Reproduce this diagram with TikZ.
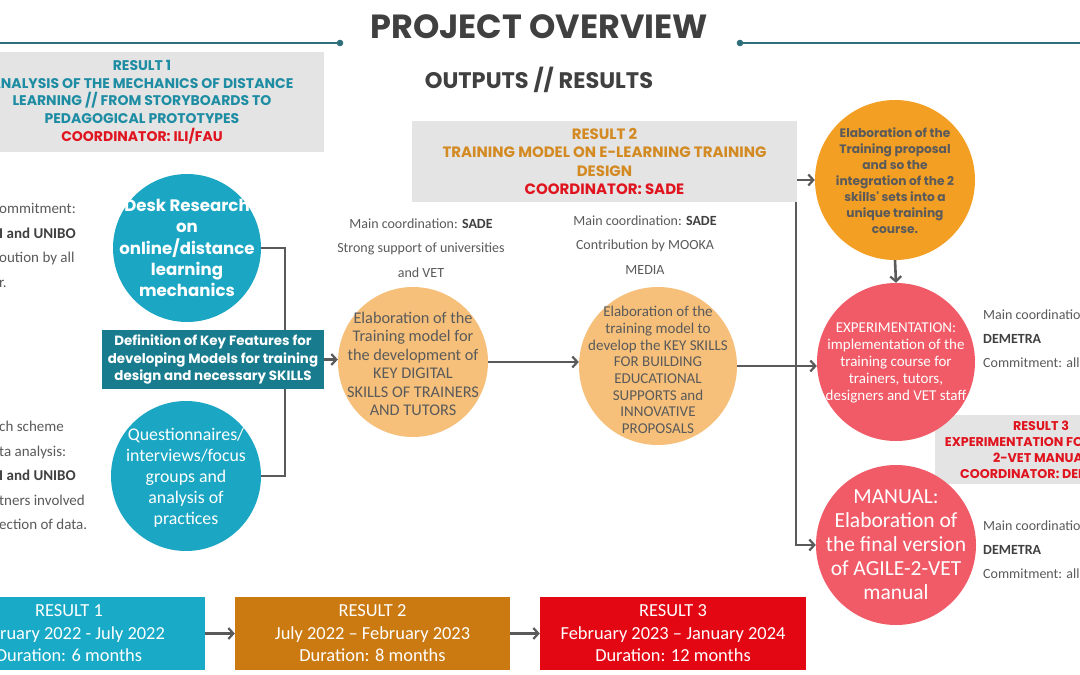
\documentclass[tikz,border=0pt]{standalone}
\usepackage{fontspec}
\setmainfont{Carlito}
\newfontfamily\goth{Poppins}
\usetikzlibrary{arrows.meta,calc}
\definecolor{tealC}{HTML}{1BA6C3}
\definecolor{tealD}{HTML}{187C8E}
\definecolor{orL}{HTML}{F6C07B}
\definecolor{orM}{HTML}{F39F24}
\definecolor{coral}{HTML}{F15B68}
\definecolor{grayBox}{HTML}{E4E4E4}
\definecolor{txtD}{HTML}{404040}
\definecolor{txtM}{HTML}{5A5A5A}
\definecolor{hOne}{HTML}{1E8DA3}
\definecolor{hTwo}{HTML}{D38A22}
\definecolor{redC}{HTML}{E0141E}
\definecolor{lineT}{HTML}{2F6F7C}
\definecolor{tlA}{HTML}{18AAC7}
\definecolor{tlB}{HTML}{CB7A12}
\definecolor{tlC}{HTML}{E30613}
\newcommand\fsz[2]{\fontsize{#1}{#2}\selectfont}
\newcommand\darkbold[1]{\textcolor{txtD}{\bfseries #1}}
\begin{document}
\begin{tikzpicture}[x=1pt,y=-1pt,
  disc/.style={circle, inner sep=0pt, minimum size=#1},
  ctext/.style={align=center, inner sep=0pt},
  gbox/.style={rectangle, fill=grayBox, inner sep=0pt, align=center},
  conn/.style={draw=txtM, line width=2.6pt},
  arr/.style={conn, -{Straight Barb[length=5pt,width=11pt,line width=2.2pt]}},
  ann/.style={align=center, inner sep=0pt, text=txtM, font=\fsz{14}{24.5}},
  side/.style={align=left, inner sep=0pt, text=txtM, font=\fsz{15}{24.5}, anchor=north west},
  tl/.style={rectangle, inner sep=0pt, text=white, align=center, minimum height=73pt, font=\fsz{18.4}{22.5}}
]
\useasboundingbox (0,0) rectangle (1080,675);
\clip (0,0) rectangle (1080,675);
\fill[white] (0,0) rectangle (1080,675);

% title and rules
\node[font=\goth\bfseries\fsz{33.5}{33.5}, text=txtD, inner sep=0pt] (title) at (539,27) {PROJECT OVERVIEW};
\node[font=\goth\bfseries\fsz{22.5}{22.5}, text=txtD, inner sep=0pt] (sub) at (539,80) {OUTPUTS // RESULTS};
\coordinate (lA) at (0,43);
\coordinate (lB) at (340,43);
\coordinate (rA) at (740,43);
\coordinate (rB) at (1080,43);
\draw[lineT, line width=1.3pt] (lA) -- (lB);
\draw[lineT, line width=1.3pt] (rA) -- (rB);
\fill[lineT] (lB) circle (3.3);
\fill[lineT] (rA) circle (3.3);

% Result 1 box
\node[gbox, minimum width=364pt, minimum height=100pt, text=hOne, font=\goth\bfseries\fsz{14}{17.7}] (r1) at (142,102)
  {RESULT 1\\ANALYSIS OF THE MECHANICS OF DISTANCE\\LEARNING // FROM STORYBOARDS TO\\PEDAGOGICAL PROTOTYPES\\\textcolor{redC}{COORDINATOR: ILI/FAU}};

% Result 2 box
\node[gbox, minimum width=385pt, minimum height=81pt, text=hTwo, font=\goth\bfseries\fsz{15}{18.3}] (r2) at (604.5,161.5)
  {RESULT 2\\TRAINING MODEL ON E-LEARNING TRAINING\\DESIGN\\\textcolor{redC}{COORDINATOR: SADE}};

% Result 3 box
\node[gbox, minimum width=212pt, minimum height=69pt, text=redC, font=\goth\bfseries\fsz{12.7}{16}] (r3) at (1041,449.5)
  {RESULT 3\\EXPERIMENTATION FOR AGILE-\\2-VET MANUAL\\COORDINATOR: DEMETRA};

% left side notes
\node[side] (sa) at (-1,203) {ommitment:\\\darkbold{I and UNIBO}\\oution by all\\r.};
\node[side] (sb) at (-1,421) {ch scheme\\ta analysis:\\\darkbold{I and UNIBO}\\tners involved\\ection of data.};

% circles of result 1
\node[disc=148pt, fill=tealC] (desk) at (187,248) {};
\node[ctext, text=white, font=\goth\bfseries\fsz{16.6}{21.2}] (deskT) at (desk) {Desk Research\\on\\online/distance\\learning\\mechanics};
\node[disc=150pt, fill=tealC] (quest) at (186,476) {};
\node[ctext, text=white, font=\fsz{17.8}{21}] (questT) at (186,478) {Questionnaires/\\interviews/focus\\groups and\\analysis of\\practices};
\node[rectangle, fill=tealD, minimum width=222pt, minimum height=59pt, inner sep=0pt, align=center, text=white, font=\goth\bfseries\fsz{13.4}{17.5}] (def) at (213,359.5)
  {Definition of Key Features for\\developing Models for training\\design and necessary SKILLS};
\coordinate (bA) at (285,330);
\coordinate (bB) at (285,389);
\draw[conn] (desk.east) -| (bA);
\draw[conn] (quest.east) -| (bB);

% result 2 circles
\node[disc=150pt, fill=orL] (cA) at (413,362) {};
\node[ctext, text=txtM, font=\fsz{16.3}{18.5}] (cAT) at (413,364) {Elaboration of the\\Training model for\\the development of\\KEY DIGITAL\\SKILLS OF TRAINERS\\AND TUTORS};
\node[ann] (annA) at (421,248) {Main coordination: \darkbold{SADE}\\Strong support of universities\\and VET};
\node[disc=158pt, fill=orL] (cB) at (658,366) {};
\node[ctext, text=txtM, font=\fsz{15}{16.7}] (cBT) at (658,370) {Elaboration of the\\training model to\\develop the KEY SKILLS\\FOR BUILDING\\EDUCATIONAL\\SUPPORTS and\\INNOVATIVE\\PROPOSALS};
\node[ann] (annB) at (645,245) {Main coordination: \darkbold{SADE}\\Contribution by MOOKA\\MEDIA};

\draw[arr] (def.east) -- (def.east -| cA.west);
\draw[arr] (cA.east) -- (cA.east -| cB.west);

% right column
\node[disc=160pt, fill=orM] (cC) at (895,180) {};
\node[ctext, text=txtM, font=\goth\bfseries\fsz{12.2}{16}] (cCT) at (895,181) {Elaboration of the\\Training proposal\\and so the\\integration of the 2\\skills' sets into a\\unique training\\course.};
\node[disc=158pt, fill=coral] (cD) at (896,362) {};
\node[ctext, text=white, font=\fsz{15}{17}] (cDT) at (896,363) {EXPERIMENTATION:\\implementation of the\\training course for\\trainers, tutors,\\designers and VET staff};
\node[disc=160pt, fill=coral] (cE) at (896,545) {};
\node[ctext, text=white, font=\fsz{21.5}{24}] (cET) at (896,545) {MANUAL:\\Elaboration of\\the final version\\of AGILE-2-VET\\manual};
\node[side, font=\fsz{14}{24}] (annD) at (983,310) {Main coordination:\\\darkbold{DEMETRA}\\Commitment: all};
\node[side, font=\fsz{14}{24}] (annE) at (983,521) {Main coordination:\\\darkbold{DEMETRA}\\Commitment: all};

\coordinate (vT) at (796,202);
\draw[arr] (r2.east |- cC.west) -- (cC.west);
\draw[arr] (cB.east) -- (cB.east -| cD.west);
\draw[conn] (vT) -- (vT |- cB.east);
\draw[arr] (vT) |- (cE.west);
\draw[arr] (cC.south) -- (cD.north);

% timeline
\node[tl, fill=tlA, minimum width=272pt] (tA) at (69,633.5) {RESULT 1\\February 2022 - July 2022\\Duration: 6 months};
\node[tl, fill=tlB, minimum width=275pt] (tB) at (372.5,633.5) {RESULT 2\\July 2022 – February 2023\\Duration: 8 months};
\node[tl, fill=tlC, minimum width=266pt] (tC) at (673,633.5) {RESULT 3\\February 2023 – January 2024\\Duration: 12 months};
\draw[arr] (tA.east) -- (tB.west);
\draw[arr] (tB.east) -- (tC.west);
\end{tikzpicture}
\end{document}
